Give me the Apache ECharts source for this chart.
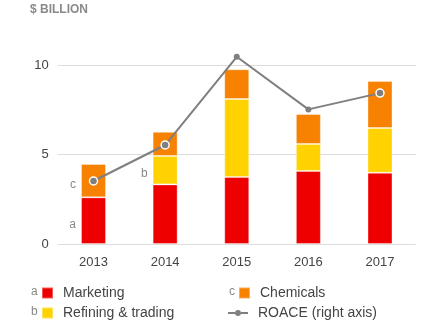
<!DOCTYPE html>
<html><head><meta charset="utf-8">
<script src="https://cdn.jsdelivr.net/npm/echarts@6/dist/echarts.min.js"></script>
<style>html,body{margin:0;padding:0;background:#fff}#c{width:424px;height:327px}</style>
</head><body><div id="c"></div>
<script>
const years = ['2013','2014','2015','2016','2017'];
const marketing = [2.61, 3.33, 3.74, 4.08, 3.98];
const refining = [0, 1.59, 4.36, 1.51, 2.50];
const chemicals = [1.86, 1.35, 1.66, 1.67, 2.62];
const roace = [3.52, 5.53, 10.46, 7.52, 8.43];
const yTicks = [0, 5, 10];

const FONT = 'Liberation Sans, Arial, sans-serif';
const RED = '#ee0000', YEL = '#ffd200', ORA = '#f78100', GRY = '#7f7f7f';

function withLabel(arr, idx, txt) {
  return arr.map((v, i) => i === idx ? {
    value: v,
    label: { show: true, position: 'left', formatter: txt, color: '#888', fontSize: 12, fontFamily: FONT, distance: 5, offset: [0, 4] }
  } : v);
}

const LINE_ICON = 'path://M0,2H7V4H0Z M13,2H20V4H13Z M7,3A3,3 0 1,1 13,3A3,3 0 1,1 7,3Z';
function leg(name, left, top, icon, w, h) {
  return {
    left: left, top: top, padding: 0, itemWidth: w, itemHeight: h, icon: icon,
    selectedMode: false,
    textStyle: { fontSize: 14, color: '#444', fontFamily: FONT, padding: [0, 0, 0, 5] },
    data: [{ name: name, icon: icon, itemStyle: name.indexOf('ROACE') === 0 ? { color: GRY, borderWidth: 0 } : undefined }]
  };
}

const chart = echarts.init(document.getElementById('c'));
chart.setOption({
  animation: false,
  textStyle: { fontFamily: FONT },
  grid: { left: 57.7, right: 8.2, top: 65, bottom: 83 },
  graphic: [
    { type: 'text', left: 30, top: 4, style: { text: '$ BILLION', font: 'bold 12px ' + FONT, fill: '#8a8a8a' } },
    { type: 'text', left: 31, top: 286, style: { text: 'a', font: '12px ' + FONT, fill: '#888' } },
    { type: 'text', left: 31, top: 306, style: { text: 'b', font: '12px ' + FONT, fill: '#888' } },
    { type: 'text', left: 229, top: 286, style: { text: 'c', font: '12px ' + FONT, fill: '#888' } }
  ],
  legend: [
    leg('Marketing', 41, 286, 'rect', 11, 11),
    leg('Refining & trading', 41, 306, 'rect', 11, 11),
    leg('Chemicals', 238, 286, 'rect', 11, 11),
    leg('ROACE (right axis)', 228, 306, LINE_ICON, 20, 6)
  ],
  xAxis: {
    type: 'category', data: years,
    axisLine: { show: false }, axisTick: { show: false },
    axisLabel: { fontSize: 13, color: '#444', margin: 12, fontFamily: FONT }
  },
  yAxis: [
    {
      type: 'value', min: 0, max: 10, interval: 5,
      axisLine: { show: false }, axisTick: { show: false },
      axisLabel: { fontSize: 13, color: '#444', margin: 9, fontFamily: FONT },
      splitLine: { lineStyle: { color: '#dcdcdc', width: 1 } }
    },
    { type: 'value', min: 0, max: 10, show: false, splitLine: { show: false } }
  ],
  series: [
    {
      name: 'Marketing', type: 'bar', stack: 's', barWidth: 25,
      itemStyle: { color: RED, borderColor: 'rgba(255,255,255,0.35)', borderWidth: 1 },
      data: withLabel(marketing, 0, 'a')
    },
    {
      name: 'Refining & trading', type: 'bar', stack: 's', barWidth: 25,
      itemStyle: { color: YEL, borderColor: 'rgba(255,255,255,0.35)', borderWidth: 1 },
      data: withLabel(refining, 1, 'b')
    },
    {
      name: 'Chemicals', type: 'bar', stack: 's', barWidth: 25,
      itemStyle: { color: ORA, borderColor: 'rgba(255,255,255,0.35)', borderWidth: 1 },
      data: withLabel(chemicals, 0, 'c')
    },
    {
      name: 'ROACE (right axis)', type: 'line', yAxisIndex: 1, clip: false,
      symbol: 'circle', symbolSize: 8,
      lineStyle: { color: GRY, width: 2 },
      itemStyle: { color: GRY, borderColor: '#fff', borderWidth: 1.5 },
      data: roace.map((v, i) => (i === 2 || i === 3) ? { value: v, symbolSize: 6, itemStyle: { borderWidth: 0 } } : v)
    }
  ]
});
</script></body></html>
